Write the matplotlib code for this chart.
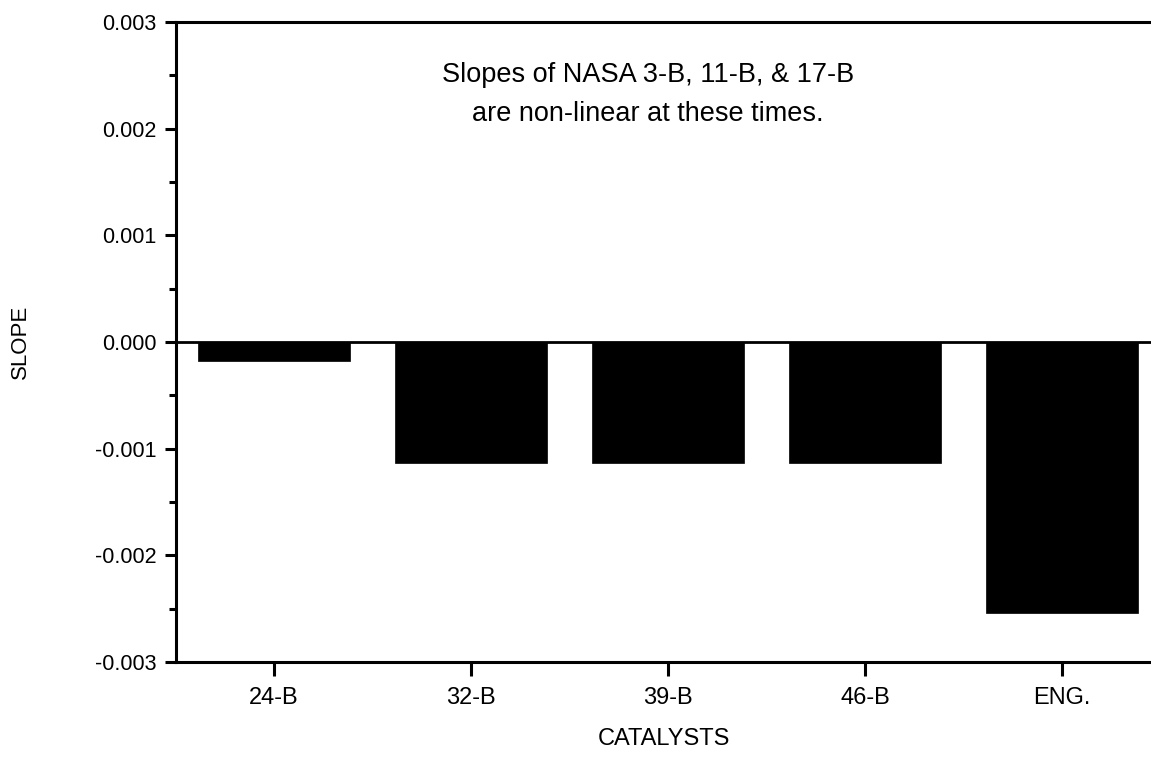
import matplotlib
matplotlib.use("Agg")
import matplotlib.pyplot as plt
from matplotlib.ticker import MultipleLocator, FormatStrFormatter

catalysts = ["24-B", "32-B", "39-B", "46-B", "ENG."]
slopes = [-0.00018, -0.00113, -0.00113, -0.00113, -0.00254]
yticks = [0.003, 0.002, 0.001, 0.000, -0.001, -0.002, -0.003]
note = "Slopes of NASA 3-B, 11-B, & 17-B\nare non-linear at these times."

plt.rcParams['font.family'] = ['Liberation Sans', 'DejaVu Sans']

fig = plt.figure(figsize=(11.51, 7.58), dpi=100)
ax = fig.add_axes([176/1151, 1 - 662/758, 1 - 176/1151, (662 - 22)/758])

x = list(range(len(catalysts)))
ax.bar(x, slopes, width=0.772, color="black", edgecolor="black", linewidth=0.5, zorder=2)
ax.axhline(0, color="black", linewidth=2, zorder=3)

ax.set_xlim(-0.497, 4.45)
ax.set_ylim(-0.003, 0.003)
ax.set_yticks(yticks)
ax.yaxis.set_major_formatter(FormatStrFormatter('%.3f'))
ax.yaxis.set_minor_locator(MultipleLocator(0.0005))
ax.set_xticks(x)
ax.set_xticklabels(catalysts)

for s in ["left", "bottom", "top"]:
    ax.spines[s].set_linewidth(2.2)
ax.spines["right"].set_visible(False)

ax.tick_params(axis='y', which='major', direction='out', length=8, width=2.2, labelsize=15.5, pad=6)
ax.tick_params(axis='y', which='minor', direction='out', length=5, width=2.2)
ax.tick_params(axis='x', which='major', direction='out', length=10, width=2.2, labelsize=17, pad=8)

ax.set_xlabel("CATALYSTS", fontsize=17, labelpad=14)
ax.set_ylabel("SLOPE", fontsize=16, labelpad=46)

ax.text(0.484, 0.938, note, transform=ax.transAxes, ha='center', va='top',
        fontsize=19.5, linespacing=1.68)

fig.savefig("out.png", dpi=100)
